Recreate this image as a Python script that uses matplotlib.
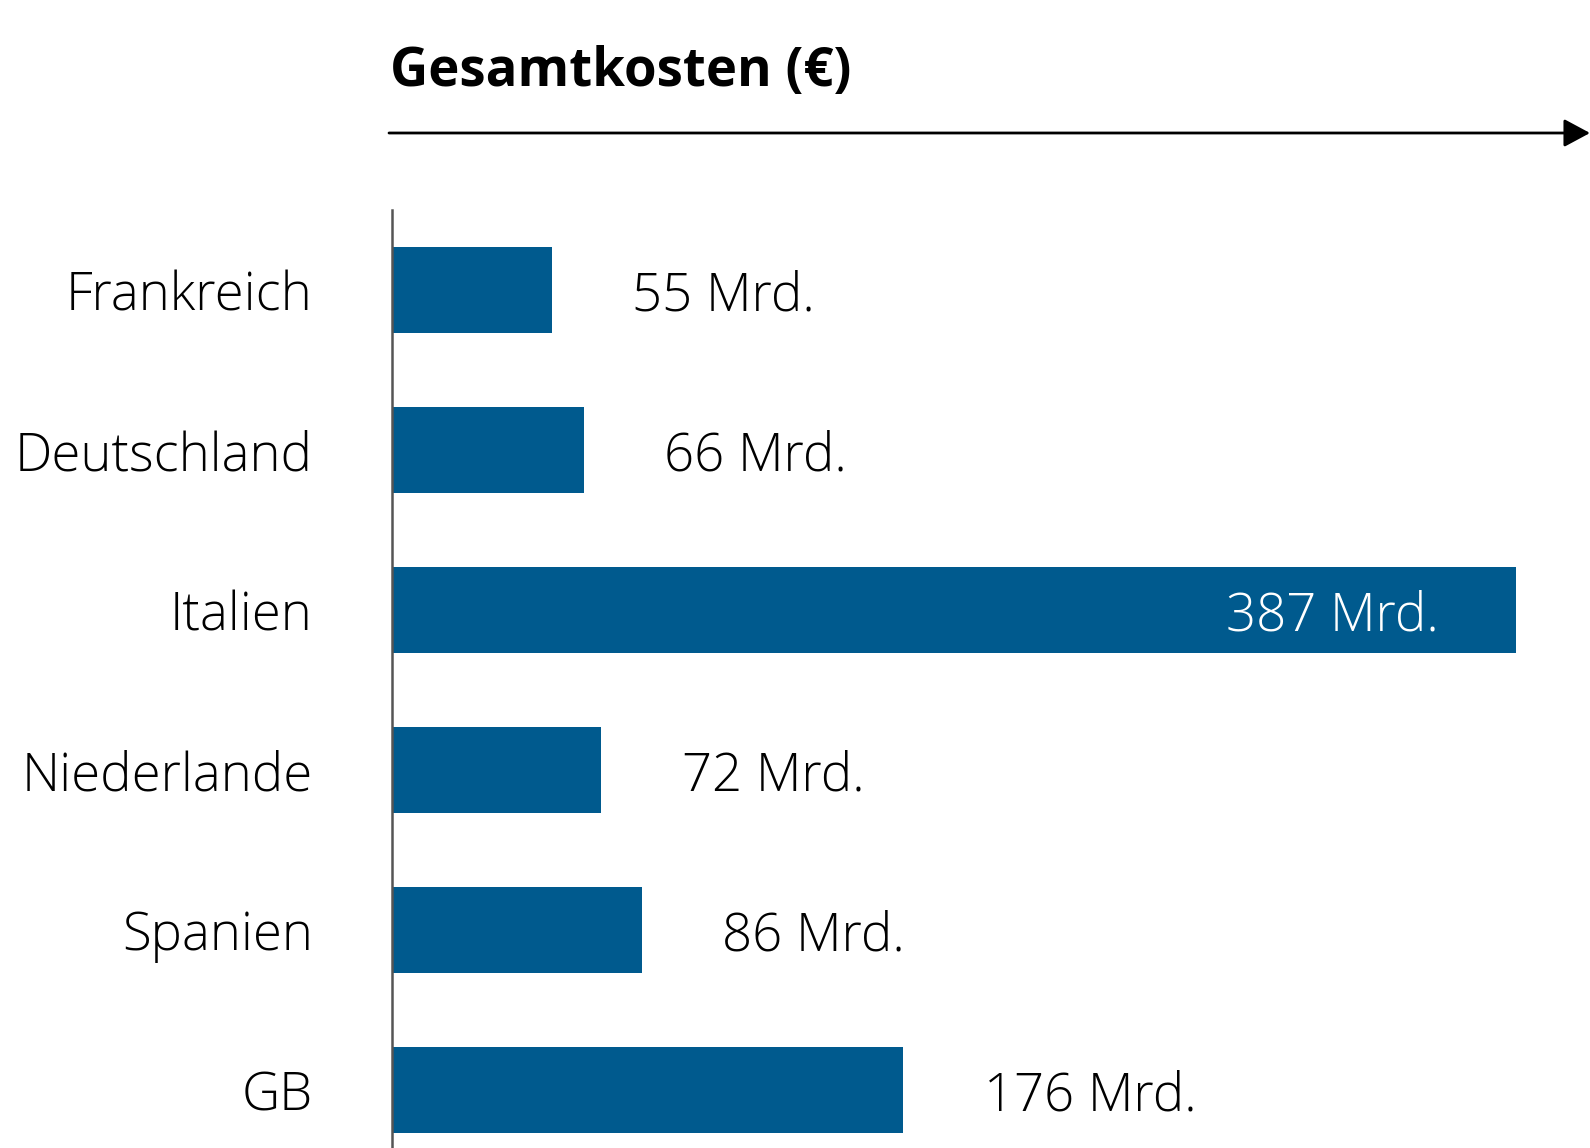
import matplotlib.pyplot as plt

# data
countries = ["Frankreich", "Deutschland", "Italien", "Niederlande", "Spanien", "GB"]
costs = [55, 66, 387, 72, 86, 176]
value_labels = ["55 Mrd.", "66 Mrd.", "387 Mrd.", "72 Mrd.", "86 Mrd.", "176 Mrd."]

BAR_COLOR = "#005A8E"
W, H = 1590, 1148

plt.rcParams['font.family'] = ['Open Sans', 'DejaVu Sans']

fig = plt.figure(figsize=(W / 100, H / 100), dpi=100)

# axes placed in pixel terms so the bars land where the reference has them
left, right, top, bottom = 392, 1590, 210, 1148
ax = fig.add_axes([left / W, 1 - bottom / H, (right - left) / W, (bottom - top) / H])

px_per_unit = 2.905
ax.set_xlim(0, (right - left) / px_per_unit)
ax.set_ylim(5 + (bottom - 1090) / 160, -0.5)

ypos = list(range(len(countries)))
ax.barh(ypos, costs, height=0.54, color=BAR_COLOR, zorder=2)

for y, v, lab in zip(ypos, costs, value_labels):
    if v > 300:
        ax.annotate(lab, (v, y), xytext=(-56, 0), textcoords="offset points",
                    ha="right", va="center_baseline", color="white",
                    fontsize=38, fontweight="light")
    else:
        ax.annotate(lab, (v, y), xytext=(58, 0), textcoords="offset points",
                    ha="left", va="center_baseline", color="black",
                    fontsize=38, fontweight="light")

ax.set_yticks(ypos)
ax.set_yticklabels(countries, fontsize=38, fontweight="light")
ax.tick_params(axis="y", length=0, pad=57)
ax.set_xticks([])

for side in ["top", "right", "bottom"]:
    ax.spines[side].set_visible(False)
ax.spines["left"].set_color("#555555")
ax.spines["left"].set_linewidth(1.8)

# title and arrow above the bars
fig.text(390 / W, 1 - 86 / H, "Gesamtkosten (€)", fontsize=38, fontweight="bold",
         ha="left", va="baseline")
fig.add_artist(plt.matplotlib.patches.FancyArrowPatch(
    (389 / W, 1 - 133 / H), (1.0, 1 - 133 / H), transform=fig.transFigure,
    arrowstyle="-|>,head_length=0.8,head_width=0.43", mutation_scale=20,
    color="black", lw=2.0, shrinkA=0, shrinkB=0))

fig.savefig("out.png", dpi=100)
plt.close(fig)
